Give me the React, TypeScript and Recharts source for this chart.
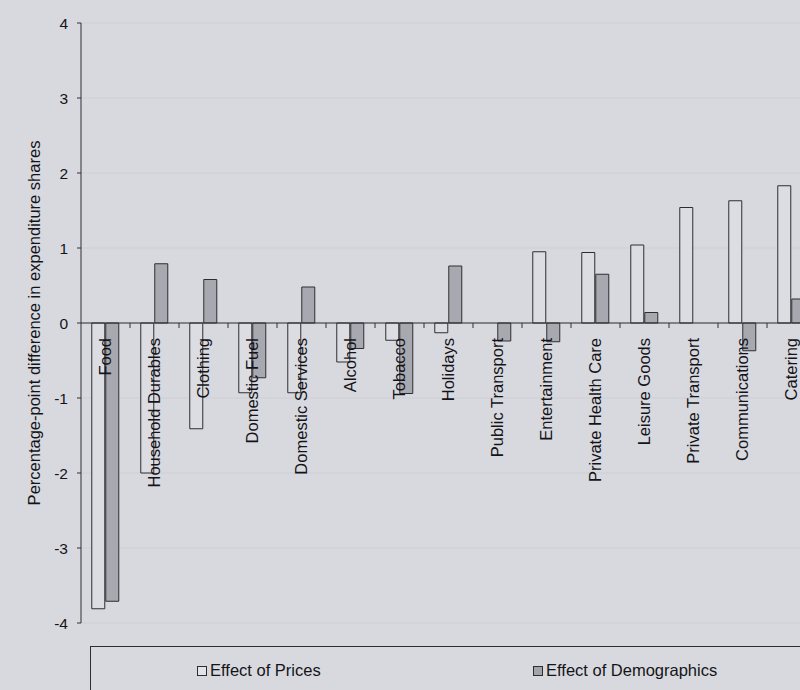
import React from "react";
import {
  Bar,
  BarChart,
  CartesianGrid,
  Legend,
  ReferenceLine,
  XAxis,
  YAxis,
} from "recharts";

const categories = [
  "Food",
  "Household Durables",
  "Clothing",
  "Domestic Fuel",
  "Domestic Services",
  "Alcohol",
  "Tobacco",
  "Holidays",
  "Public Transport",
  "Entertainment",
  "Private Health Care",
  "Leisure Goods",
  "Private Transport",
  "Communications",
  "Catering",
];

const pricesEffect = [
  -3.81, -2.0, -1.41, -0.93, -0.93, -0.52, -0.23, -0.13, 0, 0.95, 0.94, 1.04,
  1.54, 1.63, 1.83,
];

const demographicsEffect = [
  -3.71, 0.79, 0.58, -0.73, 0.48, -0.34, -0.94, 0.76, -0.24, -0.25, 0.65, 0.14,
  0, -0.37, 0.32,
];

const yTicks = [-4, -3, -2, -1, 0, 1, 2, 3, 4];

const data = categories.map((name, i) => ({
  name,
  prices: pricesEffect[i],
  demographics: demographicsEffect[i],
}));

const BG = "#d8d9df";
const INK = "#2e2e32";
const TEXT = "#141418";
const FONT = "'Liberation Sans', Arial, sans-serif";

const W = 820;
const H = 700;
const MARGIN = { top: 23, right: 4, left: 0, bottom: 0 };
const Y_AXIS_W = 81;
const LEGEND_H = 54;
const X_AXIS_H = 23;
const PLOT_H = H - MARGIN.top - MARGIN.bottom - LEGEND_H - X_AXIS_H;
const Y_MAX = yTicks[yTicks.length - 1];
const ZERO_Y = MARGIN.top + (PLOT_H * Y_MAX) / (Y_MAX - yTicks[0]);
const BAND = (W - MARGIN.left - MARGIN.right - Y_AXIS_W) / categories.length;

// category label hangs down from the zero line, tick marks sit between bands
function CategoryTick(props: any) {
  const { x, payload, index } = props;
  return (
    <g>
      {index < categories.length - 1 && (
        <line
          x1={x + BAND / 2}
          x2={x + BAND / 2}
          y1={ZERO_Y}
          y2={ZERO_Y + 5}
          stroke={INK}
          strokeWidth={1}
        />
      )}
      <text
        x={x}
        y={ZERO_Y + 15}
        transform={`rotate(-90, ${x}, ${ZERO_Y + 15})`}
        textAnchor="end"
        dy="0.36em"
        fontSize={16.5}
        fill={TEXT}
        fontFamily={FONT}
      >
        {payload.value}
      </text>
    </g>
  );
}

function LegendBox() {
  const items = [
    { label: "Effect of Prices", fill: "#e2e3e8", left: 106 },
    { label: "Effect of Demographics", fill: "#a3a3ab", left: 442 },
  ];
  return (
    <div style={{ position: "relative", height: "100%" }}>
      {items.map((it) => (
        <div
          key={it.label}
          style={{
            position: "absolute",
            left: it.left,
            top: 14,
            display: "flex",
            alignItems: "center",
            fontSize: 16.5,
            color: TEXT,
            fontFamily: FONT,
            whiteSpace: "nowrap",
          }}
        >
          <span
            style={{
              display: "inline-block",
              width: 8,
              height: 8,
              border: `1px solid ${INK}`,
              background: it.fill,
              marginRight: 3,
            }}
          />
          {it.label}
        </div>
      ))}
    </div>
  );
}

export default function App() {
  return (
    <div
      style={{
        position: "fixed",
        left: 0,
        top: 0,
        width: 800,
        height: 690,
        overflow: "hidden",
        background: BG,
        fontFamily: FONT,
      }}
    >
      <BarChart
        width={W}
        height={H}
        data={data}
        margin={MARGIN}
        barCategoryGap="22%"
        barGap={1}
      >
        <CartesianGrid vertical={false} stroke="#cdced5" />
        <YAxis
          width={Y_AXIS_W}
          domain={[yTicks[0], Y_MAX]}
          ticks={yTicks}
          interval={0}
          tickSize={4}
          tickMargin={9}
          axisLine={{ stroke: INK }}
          tickLine={{ stroke: INK }}
          tick={{ fontSize: 15.5, fill: TEXT, fontFamily: FONT }}
          label={{
            value: "Percentage-point difference in expenditure shares",
            angle: -90,
            position: "center",
            dx: -6,
            style: { fontSize: 16.5, fill: TEXT, fontFamily: FONT, textAnchor: "middle" },
          }}
        />
        <Bar
          dataKey="prices"
          name="Effect of Prices"
          fill="#dcdde3"
          stroke={INK}
          strokeWidth={1}
          isAnimationActive={false}
        />
        <Bar
          dataKey="demographics"
          name="Effect of Demographics"
          fill="#a8a8b0"
          stroke={INK}
          strokeWidth={1}
          isAnimationActive={false}
        />
        <ReferenceLine y={0} stroke={INK} strokeWidth={1} />
        <XAxis
          dataKey="name"
          height={X_AXIS_H}
          interval={0}
          axisLine={false}
          tickLine={false}
          tick={<CategoryTick />}
        />
        <Legend
          verticalAlign="bottom"
          align="left"
          height={LEGEND_H}
          width={760}
          content={<LegendBox />}
          wrapperStyle={{
            left: 90,
            width: 760,
            height: LEGEND_H,
            border: `1px solid ${INK}`,
            boxSizing: "border-box",
          }}
        />
      </BarChart>
    </div>
  );
}
